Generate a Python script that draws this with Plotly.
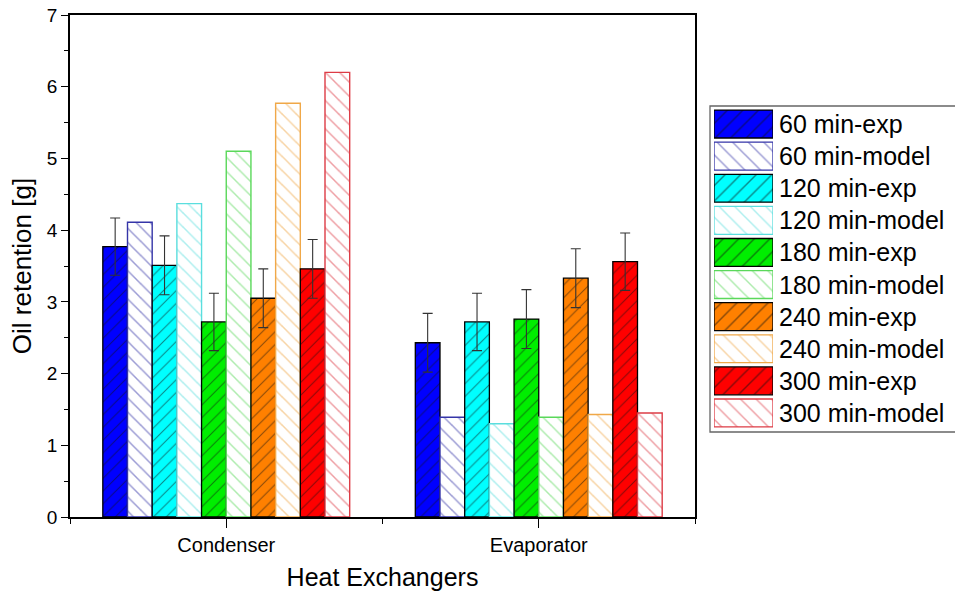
import plotly.graph_objects as go

categories = ["Condenser", "Evaporator"]
series_names = ["60 min", "120 min", "180 min", "240 min", "300 min"]
exp_values = {
    "60 min": [3.77, 2.43],
    "120 min": [3.51, 2.72],
    "180 min": [2.72, 2.76],
    "240 min": [3.05, 3.33],
    "300 min": [3.46, 3.56],
}
exp_errors = {
    "60 min": [0.40, 0.41],
    "120 min": [0.41, 0.40],
    "180 min": [0.40, 0.41],
    "240 min": [0.41, 0.41],
    "300 min": [0.41, 0.40],
}
model_values = {
    "60 min": [4.11, 1.39],
    "120 min": [4.37, 1.30],
    "180 min": [5.10, 1.39],
    "240 min": [5.77, 1.43],
    "300 min": [6.20, 1.45],
}
exp_colors = ["#0000FF", "#00FFFF", "#00EE00", "#FF8000", "#FF0000"]
model_colors = ["#3535A8", "#5ADEDE", "#5AD85A", "#F0A848", "#DD3C46"]

x_pos = [1, 2]

font_family = "Liberation Sans, Arial, sans-serif"

fig = go.Figure()
for i, name in enumerate(series_names):
    fig.add_trace(go.Bar(
        x=x_pos, y=exp_values[name], name=f"{name}-exp",
        marker=dict(color=exp_colors[i],
                    line=dict(color="black", width=1.3),
                    pattern=dict(shape="/", fgcolor="#111111", bgcolor=exp_colors[i],
                                 fillmode="overlay", size=9, solidity=0.12)),
        error_y=dict(type="data", array=exp_errors[name], color="#333333",
                     thickness=1.1, width=5),
        xaxis="x", yaxis="y",
    ))
    fig.add_trace(go.Bar(
        x=x_pos, y=model_values[name], name=f"{name}-model",
        marker=dict(color="white",
                    line=dict(color=model_colors[i], width=1.4),
                    pattern=dict(shape="\\", fgcolor=model_colors[i], bgcolor="white",
                                 fillmode="overlay", size=10, solidity=0.15)),
        xaxis="x", yaxis="y",
    ))

# Legend built as a small horizontal bar chart (one swatch per series)
legend_items = []
for i, name in enumerate(series_names):
    legend_items.append((f"{name}-exp", exp_colors[i], "black", "/", "#111111"))
    legend_items.append((f"{name}-model", "white", model_colors[i], "\\", model_colors[i]))

for row, (lab, fill, line, shape, fg) in enumerate(legend_items):
    fig.add_trace(go.Bar(
        x=[1], y=[row], orientation="h", width=0.87, offsetgroup="legend",
        marker=dict(color=fill, line=dict(color=line, width=1.3),
                    pattern=dict(shape=shape, fgcolor=fg, bgcolor=fill,
                                 fillmode="overlay", size=11, solidity=0.13)),
        xaxis="x2", yaxis="y2", showlegend=False, hoverinfo="skip",
    ))

W, H = 955, 597
L, R, T, B = 70, 0, 15, 80
pw, ph = W - L - R, H - T - B

def px_x(px):
    return (px - L) / pw

def px_y(py):
    return (H - B - py) / ph

for row, item in enumerate(legend_items):
    fig.add_annotation(x=px_x(777), y=row, xref="paper", yref="y2", text=item[0],
                       showarrow=False, xanchor="left", yanchor="middle",
                       font=dict(size=25, family=font_family, color="black"))

fig.add_shape(type="rect", xref="paper", yref="paper",
              x0=px_x(710), x1=px_x(958), y0=px_y(432), y1=px_y(106),
              line=dict(color="#666666", width=1.3), fillcolor="rgba(0,0,0,0)")

fig.update_layout(
    width=W, height=H,
    margin=dict(l=L, r=R, t=T, b=B),
    paper_bgcolor="white", plot_bgcolor="white",
    barmode="group", bargap=0.21, bargroupgap=0,
    font=dict(family=font_family, color="black"),
    showlegend=False,
    xaxis=dict(domain=[0, px_x(695)], range=[0.5, 2.5], tickvals=x_pos, ticktext=categories,
               ticks="outside", ticklen=9, tickwidth=1.3, tickcolor="black",
               minor=dict(tickvals=[0.5, 1.5, 2.5], ticks="outside", ticklen=5,
                          tickwidth=1.3, tickcolor="black"),
               showline=True, linecolor="black", linewidth=1.5, mirror=True,
               showgrid=False, zeroline=False, automargin=False,
               tickfont=dict(size=20),
               title=dict(text="Heat Exchangers", font=dict(size=25), standoff=14)),
    yaxis=dict(domain=[0, 1], range=[0, 7], dtick=1, tick0=0,
               ticks="outside", ticklen=7, tickwidth=1.3, tickcolor="black",
               minor=dict(dtick=0.5, ticks="outside", ticklen=4, tickwidth=1.3,
                          tickcolor="black"),
               showline=True, linecolor="black", linewidth=1.5, mirror=True,
               showgrid=False, zeroline=False, automargin=False,
               tickfont=dict(size=19),
               title=dict(text="Oil retention [g]", font=dict(size=26), standoff=8)),
    xaxis2=dict(domain=[px_x(714), px_x(773)], range=[0, 1], anchor="y2",
                visible=False, fixedrange=True),
    yaxis2=dict(domain=[px_y(429), px_y(108)], range=[9.5, -0.5], anchor="x2",
                visible=False, fixedrange=True),
)

fig.write_html("out.html", config={"displayModeBar": False},
               post_script="document.body.style.margin='0';")
